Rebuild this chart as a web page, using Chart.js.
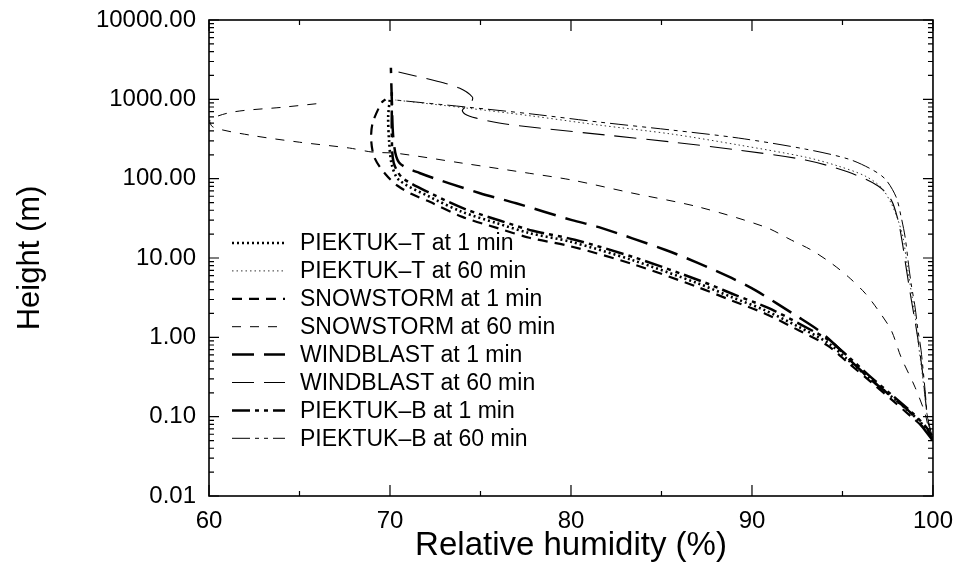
<!DOCTYPE html>
<html>
<head>
<meta charset="utf-8">
<script src="https://cdn.jsdelivr.net/npm/chart.js@4.4.1/dist/chart.umd.min.js"></script>
<style>
  html, body { margin: 0; padding: 0; background: #fff; }
  #wrap { width: 956px; height: 566px; position: relative; }
</style>
</head>
<body>
<div id="wrap"><canvas id="rh"></canvas></div>
<script>
// relative humidity (%) and height (m), ground upwards
const piektukT1_rh = [100, 99.7, 98.8, 97.7, 96.6, 95.3, 94.2, 92.6, 90.7, 88.9, 87.0, 83.4, 80.0, 77.7, 75.9, 74.0, 72.2, 70.5, 70.1, 69.95, 69.9, 70.0]
const piektukT1_h  = [0.05, 0.068, 0.11, 0.18, 0.29, 0.52, 0.85, 1.35, 2.2, 3.2, 4.8, 9.4, 16, 20.6, 27.5, 38, 59, 96, 150, 300, 600, 1050]

const piektukT60_rh = [100, 99.72, 99.45, 99.17, 99.01, 98.79, 98.57, 98.35, 98.07, 97.69, 97.13, 96.25, 94.77, 92.95, 89.26, 85.56, 81.54, 77.85, 74.21, 70.3]
const piektukT60_h  = [0.05, 0.09, 0.29, 0.92, 1.9, 3.9, 8.1, 18, 30, 49, 78, 108, 144, 187, 266, 365, 474, 616, 777, 980]

const snow1_rh = [100, 99.7, 98.8, 97.7, 96.6, 95.3, 94.2, 92.6, 90.7, 88.9, 87.0, 83.4, 80.0, 77.7, 75.9, 74.0, 72.2, 71.2, 70.4, 69.79, 69.15, 68.96, 69.04, 69.52, 69.75]
const snow1_h  = [0.05, 0.065, 0.1, 0.165, 0.27, 0.48, 0.78, 1.22, 2.0, 2.9, 4.3, 8.4, 14, 18, 24, 33, 51, 64, 82, 111, 182, 307, 500, 897, 1000]

const snow60_rh = [100, 99.83, 99.56, 99.01, 98.24, 97.69, 96.97, 96.25, 95.32, 94.38, 93.28, 92.18, 90.74, 87.05, 83.36, 80.06, 77.69, 73.99, 70.36, 69.04, 67.77, 65.01, 62.26, 60.22, 60.05, 61.32, 64.08, 66.28]
const snow60_h  = [0.05, 0.06, 0.11, 0.235, 0.56, 1.23, 2.2, 3.6, 5.8, 8.6, 12.6, 16.8, 24.5, 44, 66, 96, 117, 157, 209, 216, 243, 288, 354, 447, 550, 692, 795, 897]

const wind1_rh = [100, 98.8, 97.7, 96.6, 95.4, 94.6, 93.66, 92.56, 90.2, 88.87, 87.0, 85.23, 81.54, 80.06, 76.97, 74.93, 71.63, 70.5, 70.2, 70.1, 70.05]
const wind1_h  = [0.05, 0.11, 0.18, 0.29, 0.52, 0.8, 1.23, 1.8, 3.9, 5.6, 8.7, 12.6, 24.5, 30, 49, 66, 118, 160, 300, 1000, 2500]

const wind60_rh = [100, 99.7, 99.4, 99.1, 98.8, 98.5, 98.3, 98.07, 97.69, 96.97, 95.32, 92.95, 89.26, 85.56, 81.93, 78.24, 76.03, 74.77, 74.16, 74.0, 74.49, 74.55, 73.83, 72.34, 70.47]
const wind60_h  = [0.05, 0.1, 0.4, 1.2, 3, 8, 16, 30, 54, 81, 121, 172, 229, 290, 355, 435, 503, 580, 650, 730, 920, 1070, 1390, 1750, 2210]

const piektukB1_rh = [100, 99.7, 98.8, 97.7, 96.6, 95.4, 94.3, 92.7, 90.9, 89.1, 87.2, 83.6, 80.2, 77.9, 76.1, 74.2, 72.4, 70.7, 70.2, 70.1, 70.1, 70.1]
const piektukB1_h  = [0.05, 0.07, 0.115, 0.19, 0.31, 0.55, 0.9, 1.45, 2.35, 3.4, 5.1, 10, 17, 22, 29.5, 41, 63, 102, 160, 350, 700, 1300]

const piektukB60_rh = [100, 99.72, 99.56, 99.34, 99.17, 99.01, 98.79, 98.62, 98.46, 98.24, 97.96, 97.36, 96.58, 95.32, 92.95, 89.26, 85.56, 81.54, 77.85, 74.21, 70.3]
const piektukB60_h  = [0.05, 0.09, 0.22, 0.69, 1.23, 2.4, 4.8, 9.4, 18.4, 33, 59, 99, 132, 177, 236, 325, 410, 517, 653, 800, 980]

const seriesNames = ['PIEKTUK–T at 1 min', 'PIEKTUK–T at 60 min', 'SNOWSTORM at 1 min', 'SNOWSTORM at 60 min',
                     'WINDBLAST at 1 min', 'WINDBLAST at 60 min', 'PIEKTUK–B at 1 min', 'PIEKTUK–B at 60 min']
const xTicks = [60, 70, 80, 90, 100]
const yTicks = [0.01, 0.1, 1, 10, 100, 1000, 10000]

const FONT = "'Liberation Sans', Arial, Helvetica, sans-serif"

function pts(xs, ys) {
    return xs.map((x, i) => ({ x: x, y: ys[i] }))
}

// line styles per series
const styles = [
    { w: 2.6, dash: [2, 3], c: '#000' },
    { w: 1, dash: [1.5, 3], c: '#333' },
    { w: 2.2, dash: [10, 7], c: '#000' },
    { w: 1, dash: [9, 9], c: '#000' },
    { w: 2.5, dash: [22, 10], c: '#000' },
    { w: 1.1, dash: [22, 10], c: '#000' },
    { w: 2.5, dash: [18, 5, 4, 5, 4, 5], c: '#000' },
    { w: 1, dash: [18, 5, 4, 5, 4, 5], c: '#000' }
]

const allData = [
    pts(piektukT1_rh, piektukT1_h), pts(piektukT60_rh, piektukT60_h),
    pts(snow1_rh, snow1_h), pts(snow60_rh, snow60_h),
    pts(wind1_rh, wind1_h), pts(wind60_rh, wind60_h),
    pts(piektukB1_rh, piektukB1_h), pts(piektukB60_rh, piektukB60_h)
]

const datasets = allData.map((d, i) => ({
    label: seriesNames[i],
    data: d,
    showLine: true,
    borderColor: styles[i].c,
    borderWidth: styles[i].w,
    borderDash: styles[i].dash,
    pointRadius: 0,
    tension: 0.3,
    fill: false
}))

// frame, inward ticks and the legend inside the plot
const framePlugin = {
    id: 'frame',
    afterDraw(chart) {
        const ctx = chart.ctx
        const a = chart.chartArea
        const xs = chart.scales.x, ys = chart.scales.y
        ctx.save()
        ctx.strokeStyle = '#000'
        ctx.setLineDash([])
        ctx.lineWidth = 1.6
        ctx.strokeRect(a.left, a.top, a.right - a.left, a.bottom - a.top)

        ctx.lineWidth = 1.2
        ctx.beginPath()
        for (let v = 60; v <= 100; v += 5) {
            const px = xs.getPixelForValue(v)
            const len = (v % 10 === 0) ? 11 : 5
            ctx.moveTo(px, a.bottom); ctx.lineTo(px, a.bottom - len)
            ctx.moveTo(px, a.top); ctx.lineTo(px, a.top + len)
        }
        for (let e = -2; e <= 4; e++) {
            for (let k = 1; k <= 9; k++) {
                if (e === 4 && k > 1) break
                const py = ys.getPixelForValue(k * Math.pow(10, e))
                const len = (k === 1) ? 10 : 5
                ctx.moveTo(a.left, py); ctx.lineTo(a.left + len, py)
                ctx.moveTo(a.right, py); ctx.lineTo(a.right - len, py)
            }
        }
        ctx.stroke()

        // legend
        ctx.font = '23px ' + FONT
        ctx.textBaseline = 'middle'
        ctx.fillStyle = '#000'
        chart.data.datasets.forEach((ds, i) => {
            const y = a.top + 223 + i * 27.9
            ctx.strokeStyle = ds.borderColor
            ctx.lineWidth = ds.borderWidth
            ctx.setLineDash(ds.borderDash)
            ctx.beginPath()
            ctx.moveTo(a.left + 23, y)
            ctx.lineTo(a.left + 76, y)
            ctx.stroke()
            ctx.setLineDash([])
            ctx.fillText(ds.label, a.left + 91, y + 1)
        })
        ctx.restore()
    }
}

new Chart(document.getElementById('rh'), {
    type: 'scatter',
    data: { datasets: datasets },
    options: {
        responsive: true,
        maintainAspectRatio: false,
        animation: false,
        layout: { padding: { top: 20, right: 21, left: 0, bottom: 0 } },
        plugins: { legend: { display: false }, tooltip: { enabled: false } },
        scales: {
            x: {
                type: 'linear',
                min: 60, max: 100,
                afterBuildTicks: s => { s.ticks = xTicks.map(v => ({ value: v })) },
                afterFit: s => { s.height = 70 },
                grid: { display: false },
                border: { display: false },
                ticks: { color: '#000', font: { family: FONT, size: 24 }, padding: 3, maxRotation: 0 },
                title: { display: true, text: 'Relative humidity (%)', color: '#000',
                         font: { family: FONT, size: 33 }, padding: { top: 0, bottom: 0 } }
            },
            y: {
                type: 'logarithmic',
                min: 0.01, max: 10000,
                afterBuildTicks: s => { s.ticks = yTicks.map(v => ({ value: v })) },
                afterFit: s => { s.width = 209 },
                grid: { display: false },
                border: { display: false },
                ticks: { color: '#000', font: { family: FONT, size: 24 }, padding: 5,
                         callback: v => Number(v).toFixed(2) },
                title: { display: true, text: 'Height (m)', color: '#000',
                         font: { family: FONT, size: 31 }, padding: { top: 12, bottom: 0 } }
            }
        }
    },
    plugins: [framePlugin]
})
</script>
</body>
</html>
